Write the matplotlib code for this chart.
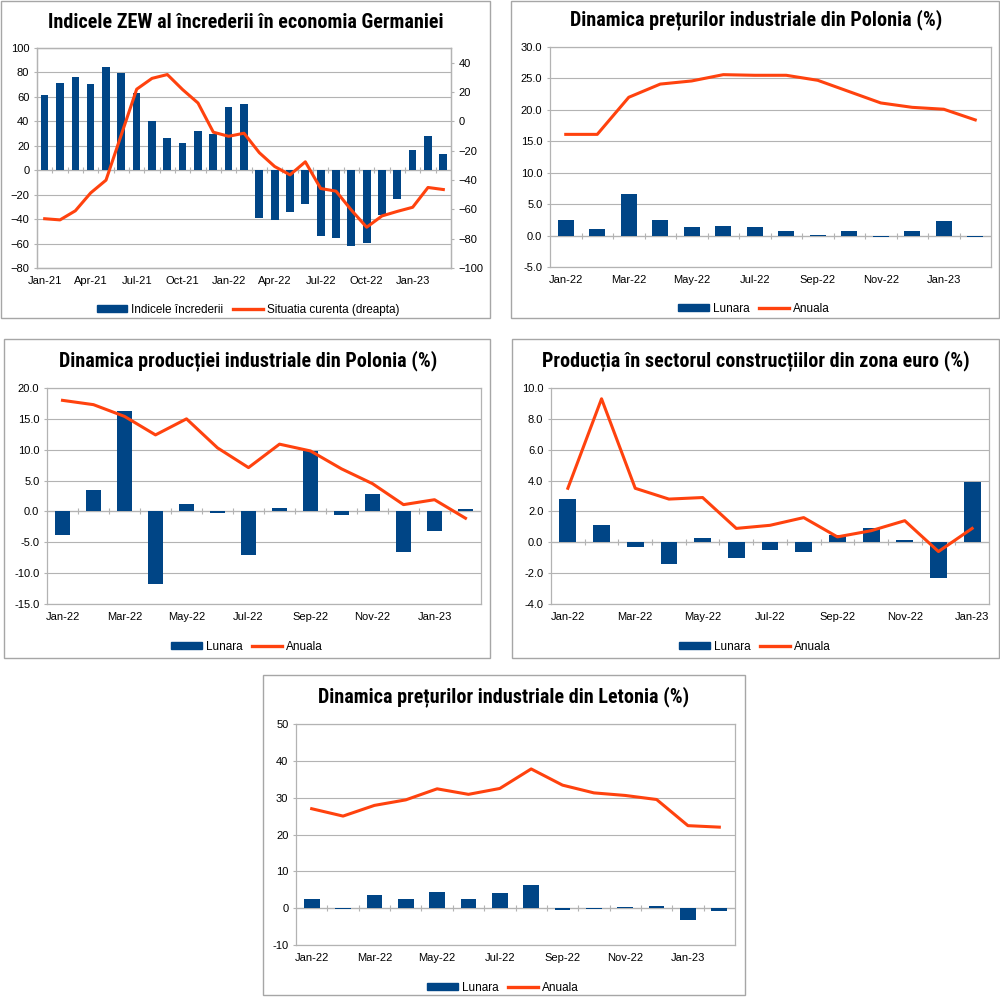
import matplotlib
matplotlib.use('Agg')
import matplotlib.pyplot as plt
from matplotlib import font_manager
from matplotlib.patches import Rectangle, Patch
from matplotlib.lines import Line2D
from matplotlib.ticker import FormatStrFormatter
import numpy as np

BLUE = '#004586'
ORANGE = '#ff420e'
GRID = '#b3b3b3'
BORDER = '#a6a6a6'

# ZEW Germania, Jan-21 .. Mar-23
zew_index = [61.8, 71.2, 76.6, 70.7, 84.4, 79.8, 63.3, 40.4, 26.5, 22.3, 31.7, 29.9,
             51.7, 54.3, -39.3, -41.0, -34.3, -28.0, -53.8, -55.3, -61.9, -59.2, -36.7, -23.3,
             16.9, 28.1, 13.0]
zew_current = [-66.4, -67.2, -61.0, -48.8, -40.1, -9.1, 21.9, 29.3, 31.9, 21.6, 12.5, -7.4,
               -10.2, -8.1, -21.4, -30.8, -36.5, -27.6, -45.8, -47.6, -60.5, -72.2, -64.5, -61.4,
               -58.6, -45.1, -46.5]
zew_labels = ['Jan-21', 'Apr-21', 'Jul-21', 'Oct-21', 'Jan-22', 'Apr-22', 'Jul-22', 'Oct-22', 'Jan-23']

# preturi industriale Polonia, Jan-22 .. Feb-23
pl_ppi_lunara = [2.4, 1.1, 6.6, 2.5, 1.4, 1.6, 1.3, 0.8, 0.1, 0.8, -0.2, 0.7, 2.3, -0.2]
pl_ppi_anuala = [16.1, 16.1, 22.0, 24.1, 24.6, 25.6, 25.5, 25.5, 24.7, 22.9, 21.1, 20.4, 20.1, 18.4]

# productie industriala Polonia, Jan-22 .. Feb-23
pl_prod_lunara = [-3.9, 3.4, 16.2, -11.7, 1.2, -0.3, -7.0, 0.6, 9.8, -0.6, 2.8, -6.5, -3.1, 0.4]
pl_prod_anuala = [18.0, 17.3, 15.4, 12.4, 15.0, 10.3, 7.1, 10.9, 9.8, 6.9, 4.5, 1.1, 1.9, -1.1]

# constructii zona euro, Jan-22 .. Jan-23
ez_constr_lunara = [2.8, 1.15, -0.3, -1.4, 0.3, -1.0, -0.5, -0.6, 0.5, 0.9, 0.15, -2.3, 3.9]
ez_constr_anuala = [3.5, 9.3, 3.5, 2.8, 2.9, 0.9, 1.1, 1.6, 0.35, 0.75, 1.4, -0.6, 0.9]

# preturi industriale Letonia, Jan-22 .. Feb-23
lv_ppi_lunara = [2.4, -0.2, 3.7, 2.6, 4.5, 2.6, 4.0, 6.4, -0.5, -0.2, 0.4, 0.7, -3.1, -0.7]
lv_ppi_anuala = [27.0, 25.0, 27.9, 29.4, 32.4, 30.9, 32.5, 37.8, 33.4, 31.3, 30.6, 29.5, 22.4, 22.0]

labels_2m = ['Jan-22', 'Mar-22', 'May-22', 'Jul-22', 'Sep-22', 'Nov-22', 'Jan-23']


def pick_font(names):
    for n in names:
        try:
            font_manager.findfont(font_manager.FontProperties(family=n, weight='bold'),
                                  fallback_to_default=False)
            return n
        except ValueError:
            pass
    return 'DejaVu Sans'


TITLE_FONT = pick_font(['Liberation Sans Narrow', 'DejaVu Sans Condensed', 'Roboto Condensed'])
plt.rcParams['font.family'] = ['Liberation Sans', 'DejaVu Sans']

W, H = 1000, 997
fig = plt.figure(figsize=(W / 100, H / 100), dpi=100)
fig.patch.set_facecolor('white')


def fx(px):
    return px / W


def fy(py):
    return 1 - py / H


def box(x0, y0, x1, y1):
    fig.add_artist(Rectangle((fx(x0), fy(y1)), fx(x1 - x0), (y1 - y0) / H,
                             transform=fig.transFigure, fill=False, ec=BORDER, lw=1))


def axes_px(x0, y0, x1, y1):
    return fig.add_axes([fx(x0), fy(y1), fx(x1 - x0), (y1 - y0) / H])


def style_axis(ax):
    for s in ax.spines.values():
        s.set_color(GRID)
        s.set_linewidth(0.9)
    ax.yaxis.grid(True, color=GRID, lw=0.8)
    ax.set_axisbelow(True)
    ax.tick_params(axis='y', length=2.5, color=GRID, labelsize=8, pad=3)
    ax.tick_params(axis='x', length=0, labelsize=8, pad=6)


def zero_line(ax, n):
    ax.axhline(0, color=GRID, lw=0.9, zorder=1)
    ax.plot(np.arange(n - 1) + 0.5, np.zeros(n - 1), ls='none', marker='|',
            ms=4, mew=0.8, color=GRID, zorder=1)


def legend(cx, cy, names):
    handles = [Patch(color=BLUE), Line2D([], [], color=ORANGE, lw=2.4)]
    fig.legend(handles, names, loc='center', bbox_to_anchor=(fx(cx), fy(cy)),
               bbox_transform=fig.transFigure, ncol=2, frameon=False, fontsize=8.5,
               handlelength=2.6, handleheight=0.55, handletextpad=0.3, columnspacing=0.8)


def title(cx, cy, text):
    fig.text(fx(cx), fy(cy), text, ha='center', va='center', family=TITLE_FONT,
             fontweight='bold', fontsize=14.5)


def small_panel(frame, area, ttl, tpos, lunara, anuala, ylim, ystep, fmt, lpos):
    box(*frame)
    title(*tpos, ttl)
    ax = axes_px(*area)
    n = len(lunara)
    x = np.arange(n)
    ax.bar(x, lunara, width=0.5, color=BLUE, zorder=2)
    ax.plot(x, anuala, color=ORANGE, lw=2.2, zorder=3, solid_joinstyle='round')
    zero_line(ax, n)
    ax.set_xlim(-0.5, n - 0.5)
    ax.set_ylim(*ylim)
    ax.set_yticks(np.arange(ylim[0], ylim[1] + ystep / 2, ystep))
    ax.yaxis.set_major_formatter(FormatStrFormatter(fmt))
    ax.set_xticks(np.arange(0, n, 2))
    ax.set_xticklabels(labels_2m[:len(range(0, n, 2))])
    style_axis(ax)
    legend(*lpos, ['Lunara', 'Anuala'])
    return ax


# panel 1 - ZEW
box(1, 1, 490, 318)
title(246, 22, 'Indicele ZEW al încrederii în economia Germaniei')
ax1 = axes_px(37, 48, 451, 268)
n1 = len(zew_index)
x1 = np.arange(n1)
ax1.bar(x1, zew_index, width=0.5, color=BLUE, zorder=2)
zero_line(ax1, n1)
ax1.set_xlim(-0.5, n1 - 0.5)
ax1.set_ylim(-80, 100)
ax1.set_yticks(np.arange(-80, 101, 20))
ax1.set_xticks(np.arange(0, n1, 3))
ax1.set_xticklabels(zew_labels)
style_axis(ax1)
ax1b = ax1.twinx()
ax1b.plot(x1, zew_current, color=ORANGE, lw=2.2, zorder=3, solid_joinstyle='round')
ax1b.set_ylim(-100, 50)
ax1b.set_yticks(np.arange(-100, 41, 20))
for s in ax1b.spines.values():
    s.set_color(GRID)
    s.set_linewidth(0.9)
ax1b.tick_params(axis='y', length=2.5, color=GRID, labelsize=8, pad=3)
legend(248, 310, ['Indicele încrederii', 'Situatia curenta (dreapta)'])

# panel 2 - preturi Polonia
small_panel((511, 1, 999, 318), (550, 47, 991, 267),
            'Dinamica prețurilor industriale din Polonia (%)', (756, 20),
            pl_ppi_lunara, pl_ppi_anuala, (-5, 30), 5, '%.1f', (754, 309))

# panel 3 - productie Polonia
small_panel((4, 339, 490, 658), (47, 388, 481, 604),
            'Dinamica producției industriale din Polonia (%)', (248, 361),
            pl_prod_lunara, pl_prod_anuala, (-15, 20), 5, '%.1f', (247, 647))

# panel 4 - constructii zona euro
small_panel((512, 339, 999, 658), (551, 388, 989, 604),
            'Producția în sectorul construcțiilor din zona euro (%)', (756, 361),
            ez_constr_lunara, ez_constr_anuala, (-4, 10), 2, '%.1f', (755, 647))

# panel 5 - preturi Letonia
small_panel((263, 675, 745, 995), (296, 724, 735, 945),
            'Dinamica prețurilor industriale din Letonia (%)', (504, 697),
            lv_ppi_lunara, lv_ppi_anuala, (-10, 50), 10, '%d', (503, 988))

fig.savefig('out.png', dpi=100, facecolor='white')
